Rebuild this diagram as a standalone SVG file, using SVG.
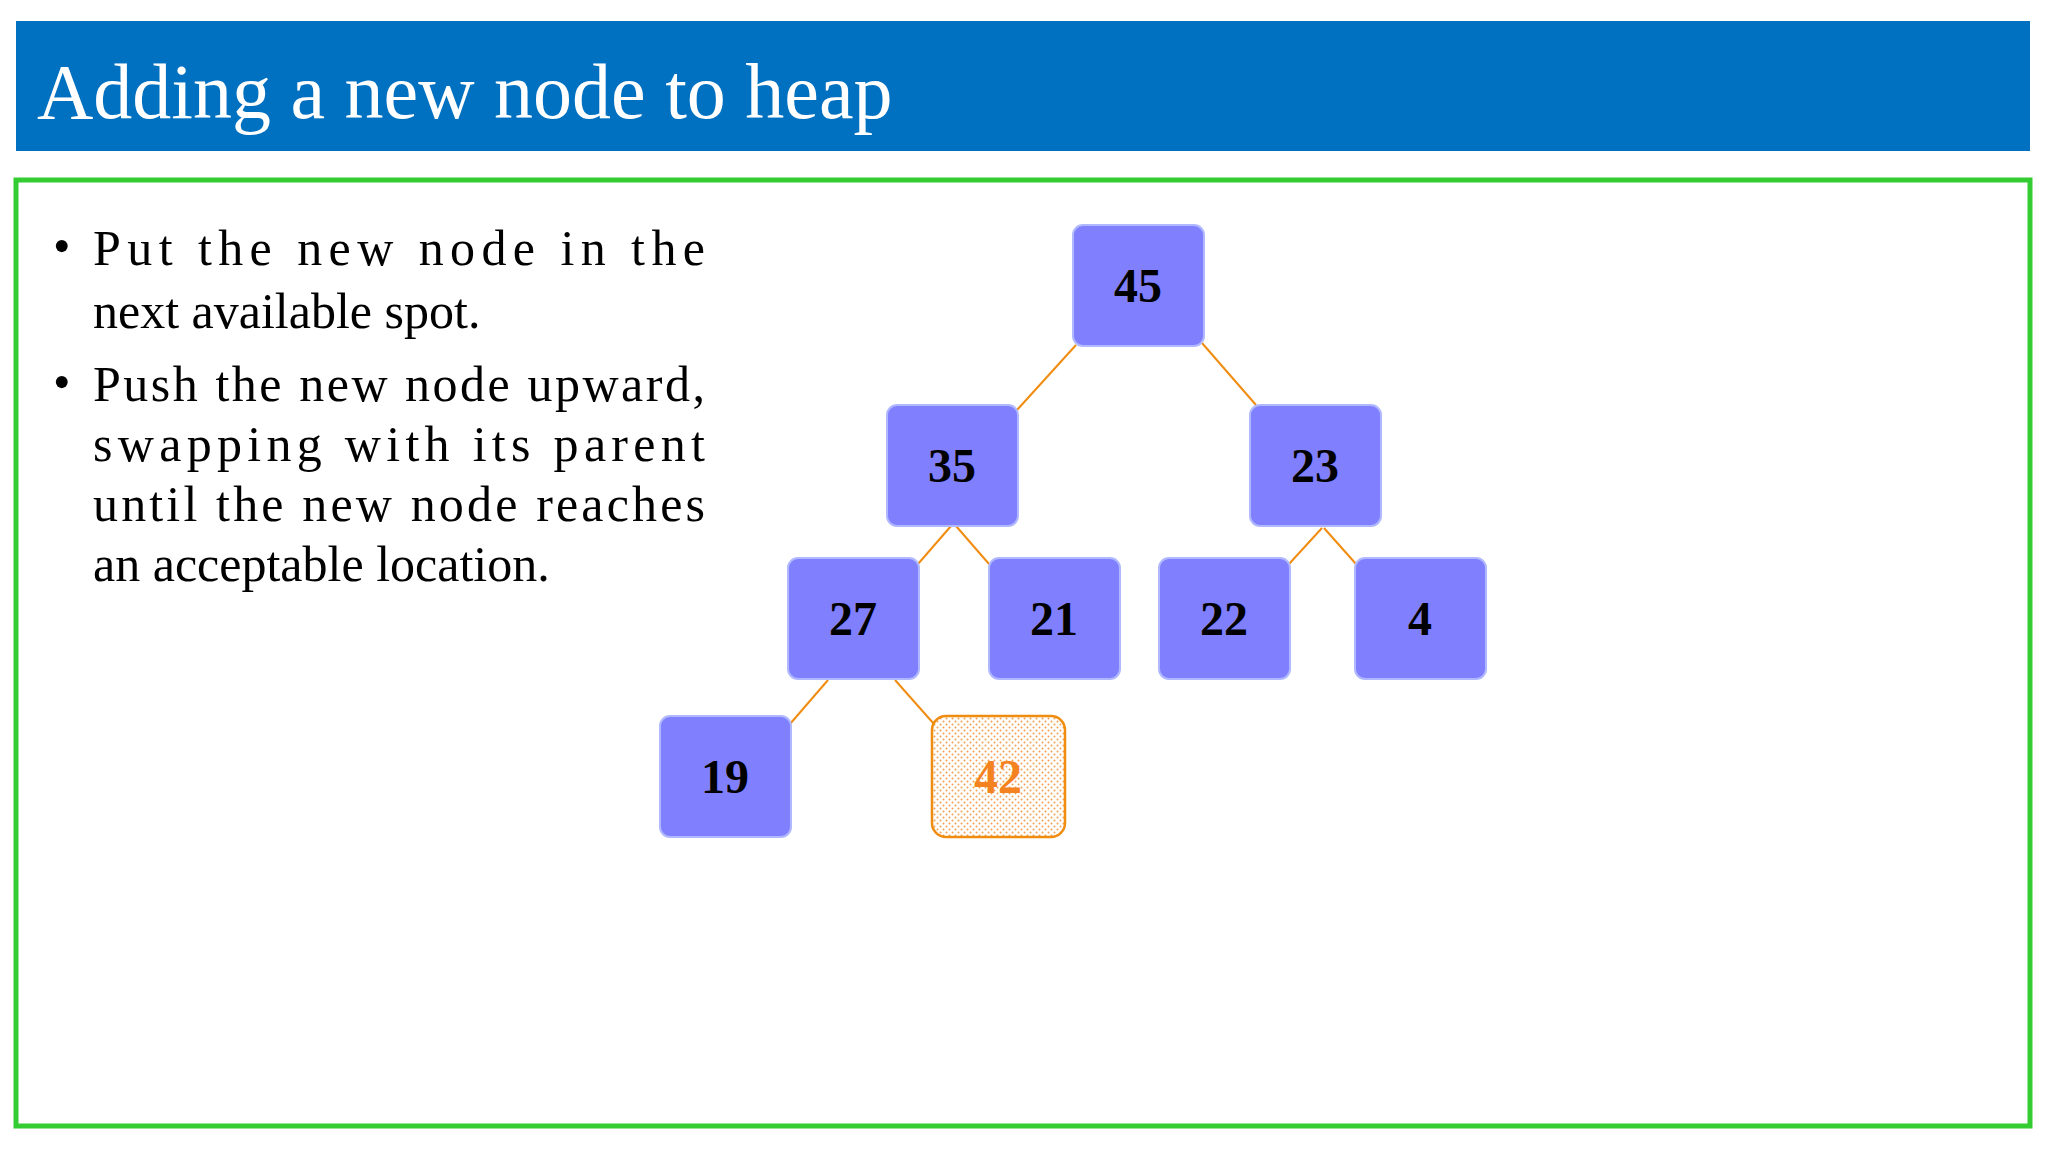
<svg xmlns="http://www.w3.org/2000/svg" width="2048" height="1152" viewBox="0 0 2048 1152">
<style>
.n{fill:#8080ff;stroke:#b0b8ff;stroke-width:2}
.t{font-family:"Liberation Serif",serif;font-weight:bold;font-size:48px;text-anchor:middle;fill:#000}
.b{font-family:"Liberation Serif",serif;font-size:50px;fill:#000}
.e{stroke:#f08c10;stroke-width:2;fill:none}
</style>
<defs>
<pattern id="dots" width="6" height="6" patternUnits="userSpaceOnUse">
<rect width="6" height="6" fill="#fff"/>
<circle cx="1.5" cy="1.5" r="1" fill="#f0a050"/>
<circle cx="4.5" cy="4.5" r="1" fill="#f0a050"/>
</pattern>
</defs>
<rect width="2048" height="1152" fill="#fff"/>
<rect x="16" y="21" width="2014" height="130" fill="#0070c0"/>
<text x="37" y="118" font-family="Liberation Serif,serif" font-size="78" fill="#fff">Adding a new node to heap</text>
<rect x="16" y="180" width="2014" height="946" fill="none" stroke="#33cc33" stroke-width="5"/>
<g id="text">
<text class="b" x="53" y="263">•</text>
<text class="b" x="93" y="265" textLength="612" lengthAdjust="spacing">Put the new node in the</text>
<text class="b" x="93" y="328">next available spot.</text>
<text class="b" x="53" y="399">•</text>
<text class="b" x="93" y="401" textLength="612" lengthAdjust="spacing">Push the new node upward,</text>
<text class="b" x="93" y="461" textLength="612" lengthAdjust="spacing">swapping with its parent</text>
<text class="b" x="93" y="521" textLength="612" lengthAdjust="spacing">until the new node reaches</text>
<text class="b" x="93" y="581">an acceptable location.</text>
</g>
<g id="connectors">
<line class="e" x1="1076" y1="345" x2="1017" y2="410"/>
<line class="e" x1="1202" y1="343" x2="1256" y2="405"/>
<line class="e" x1="951" y1="526" x2="918" y2="564"/>
<line class="e" x1="956" y1="526" x2="989" y2="564"/>
<line class="e" x1="1322" y1="528" x2="1289" y2="564"/>
<line class="e" x1="1324" y1="528" x2="1356" y2="564"/>
<line class="e" x1="828" y1="680" x2="790" y2="724"/>
<line class="e" x1="895" y1="680" x2="934" y2="724"/>
</g>
<g id="n45"><rect class="n" x="1073" y="225" width="131" height="121" rx="10"/><text class="t" x="1138" y="302">45</text></g>
<g id="n35"><rect class="n" x="887" y="405" width="131" height="121" rx="10"/><text class="t" x="952" y="482">35</text></g>
<g id="n23"><rect class="n" x="1250" y="405" width="131" height="121" rx="10"/><text class="t" x="1315" y="482">23</text></g>
<g id="n27"><rect class="n" x="788" y="558" width="131" height="121" rx="10"/><text class="t" x="853" y="635">27</text></g>
<g id="n21"><rect class="n" x="989" y="558" width="131" height="121" rx="10"/><text class="t" x="1054" y="635">21</text></g>
<g id="n22"><rect class="n" x="1159" y="558" width="131" height="121" rx="10"/><text class="t" x="1224" y="635">22</text></g>
<g id="n4"><rect class="n" x="1355" y="558" width="131" height="121" rx="10"/><text class="t" x="1420" y="635">4</text></g>
<g id="n19"><rect class="n" x="660" y="716" width="131" height="121" rx="10"/><text class="t" x="725" y="793">19</text></g>
<g id="n42"><rect x="932" y="716" width="133" height="121" rx="14" fill="url(#dots)" stroke="#f08c10" stroke-width="2.5"/><text class="t" x="998" y="793" fill="#f58220" style="fill:#f58220">42</text></g>
</svg>
